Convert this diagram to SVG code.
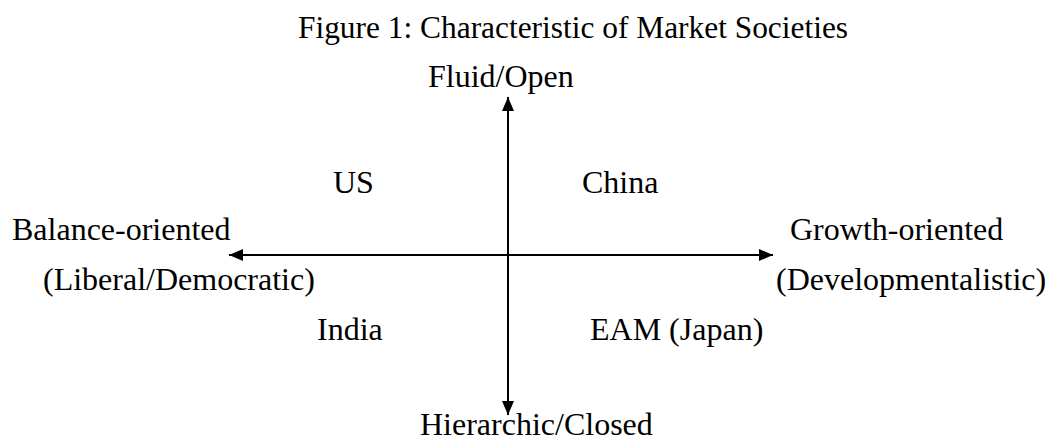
<svg xmlns="http://www.w3.org/2000/svg" width="1050" height="441" viewBox="0 0 1050 441">
<style>
text { font-family: "Liberation Serif", "Times New Roman", serif; font-size: 32px; fill: #000; }
.axis { stroke: #000; stroke-width: 2; fill: none; }
</style>
<defs>
<marker id="arr" viewBox="0 0 14 12" refX="14" refY="6" markerWidth="14" markerHeight="12" markerUnits="userSpaceOnUse" orient="auto">
<path d="M0,0 L14,6 L0,12 Z" fill="#000"/>
</marker>
</defs>
<rect width="1050" height="441" fill="#fff"/>
<g id="title"><text x="298" y="38" style="font-size:31.4px">Figure 1: Characteristic of Market Societies</text></g>
<g id="connectors">
<line class="axis" x1="508" y1="255" x2="508" y2="97" marker-end="url(#arr)"/>
<line class="axis" x1="508" y1="255" x2="508" y2="415" marker-end="url(#arr)"/>
<line class="axis" x1="508" y1="255" x2="229" y2="255" marker-end="url(#arr)"/>
<line class="axis" x1="508" y1="255" x2="773" y2="255" marker-end="url(#arr)"/>
</g>
<g id="fluid"><text x="428" y="87">Fluid/Open</text></g>
<g id="hierarchic"><text x="420" y="435">Hierarchic/Closed</text></g>
<g id="balance"><text x="12" y="240">Balance-oriented</text><text x="43" y="290">(Liberal/Democratic)</text></g>
<g id="growth"><text x="790" y="240">Growth-oriented</text><text x="776" y="290">(Developmentalistic)</text></g>
<g id="us"><text x="333" y="193">US</text></g>
<g id="china"><text x="582" y="193">China</text></g>
<g id="india"><text x="317" y="340">India</text></g>
<g id="eam"><text x="590" y="340">EAM (Japan)</text></g>
</svg>
